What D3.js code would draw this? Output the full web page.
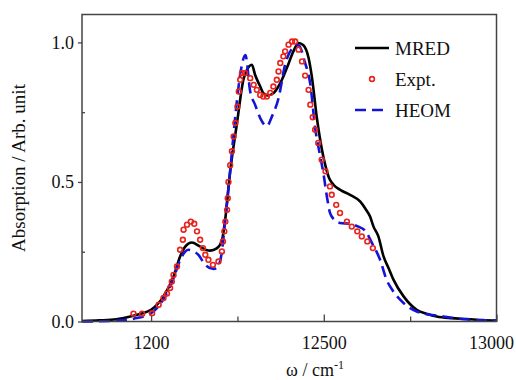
<!DOCTYPE html>
<html lang="en">
<head>
<meta charset="UTF-8">
<title>Absorption</title>
<style>
  body { margin: 0; background: #fff; }
  .frame { fill: none; stroke: #444; stroke-width: 1.5; }
  .tick line { stroke: #444; stroke-width: 1.3; }
  .mred { fill: none; stroke: #000; stroke-width: 2.6; }
  .heom { fill: none; stroke: #1414d8; stroke-width: 2.6; stroke-dasharray: 11 6; }
  .expt { fill: none; stroke: #e8221c; stroke-width: 1.6; }
</style>
</head>
<body>
<svg width="516" height="380"></svg>
<script src="https://d3js.org/d3.v7.min.js"></script>
<script>
// wavenumber (cm-1) / absorption pairs
var mredX = [11800, 11850, 11900, 11940, 11970, 12000, 12036, 12065, 12084, 12100, 12118, 12140, 12160, 12171, 12190, 12205, 12215, 12229, 12248, 12268, 12277, 12292, 12301, 12316, 12325, 12337, 12354, 12374, 12393, 12412, 12427, 12441, 12456, 12466, 12480, 12494, 12504, 12515, 12528, 12550, 12576, 12605, 12620, 12634, 12644, 12658, 12673, 12688, 12702, 12731, 12769, 12800, 12827, 12870, 12914, 12960, 13000];
var mredY = [0.002, 0.004, 0.008, 0.018, 0.028, 0.042, 0.09, 0.161, 0.233, 0.27, 0.283, 0.27, 0.256, 0.254, 0.262, 0.29, 0.37, 0.538, 0.705, 0.87, 0.9, 0.92, 0.884, 0.842, 0.818, 0.81, 0.818, 0.854, 0.908, 0.968, 0.998, 0.99, 0.944, 0.872, 0.729, 0.62, 0.562, 0.515, 0.49, 0.47, 0.454, 0.43, 0.405, 0.376, 0.34, 0.305, 0.233, 0.19, 0.149, 0.09, 0.042, 0.027, 0.018, 0.012, 0.009, 0.005, 0.003];

var heomX = [11800, 11900, 11950, 12000, 12036, 12065, 12084, 12108, 12120, 12137, 12157, 12181, 12195, 12205, 12215, 12229, 12245, 12260, 12273, 12287, 12301, 12316, 12335, 12350, 12369, 12388, 12410, 12427, 12445, 12461, 12475, 12490, 12499, 12510, 12518, 12530, 12547, 12576, 12600, 12620, 12640, 12663, 12682, 12700, 12721, 12769, 12846, 12900, 13000];
var heomY = [0.0, 0.003, 0.01, 0.03, 0.08, 0.155, 0.22, 0.257, 0.253, 0.239, 0.203, 0.188, 0.2, 0.25, 0.37, 0.54, 0.75, 0.9, 0.955, 0.824, 0.777, 0.729, 0.70, 0.735, 0.80, 0.92, 0.98, 0.99, 0.93, 0.85, 0.693, 0.59, 0.53, 0.44, 0.389, 0.365, 0.353, 0.35, 0.34, 0.325, 0.28, 0.221, 0.149, 0.11, 0.078, 0.036, 0.018, 0.009, 0.003];

var exptX = [11949, 11974, 12003, 12022, 12036, 12046, 12055, 12060, 12065, 12075, 12084, 12092, 12094, 12104, 12115, 12125, 12133, 12142, 12150, 12157, 12166, 12179, 12195, 12205, 12208, 12212, 12215, 12220, 12222, 12224, 12229, 12234, 12239, 12244, 12250, 12254, 12258, 12263, 12272, 12287, 12297, 12306, 12316, 12325, 12335, 12345, 12354, 12364, 12369, 12374, 12383, 12388, 12398, 12408, 12417, 12427, 12437, 12446, 12456, 12461, 12468, 12475, 12484, 12494, 12505, 12518, 12523, 12536, 12547, 12567, 12581, 12597, 12610, 12626, 12642];
var exptY = [0.028, 0.028, 0.03, 0.06, 0.084, 0.10, 0.12, 0.143, 0.167, 0.197, 0.257, 0.293, 0.329, 0.347, 0.358, 0.35, 0.323, 0.293, 0.263, 0.239, 0.221, 0.203, 0.215, 0.251, 0.287, 0.323, 0.358, 0.40, 0.442, 0.50, 0.56, 0.61, 0.663, 0.711, 0.77, 0.824, 0.866, 0.89, 0.89, 0.872, 0.848, 0.83, 0.812, 0.806, 0.806, 0.819, 0.842, 0.866, 0.896, 0.926, 0.95, 0.968, 0.992, 1.003, 1.003, 0.974, 0.932, 0.881, 0.83, 0.777, 0.732, 0.687, 0.64, 0.58, 0.538, 0.484, 0.454, 0.418, 0.389, 0.358, 0.34, 0.323, 0.305, 0.287, 0.263];

var xTicks = [12000, 12500, 13000];
var xTickLabels = ["1200", "12500", "13000"];
var xMinor = [12250, 12750];
var yTicks = [0, 0.5, 1.0];
var yTickLabels = ["0.0", "0.5", "1.0"];
var yMinor = [0.25, 0.75];

var seriesNames = ["MRED", "Expt.", "HEOM"];

var font = "'Liberation Serif', 'DejaVu Serif', 'Liberation Sans', serif";

var margin = {left: 82, top: 14.5, right: 19.5, bottom: 58.5};
var width = 516 - margin.left - margin.right;
var height = 380 - margin.top - margin.bottom;

var svg = d3.select("svg");
var g = svg.append("g").attr("transform", "translate(" + margin.left + "," + margin.top + ")");

var x = d3.scaleLinear().domain([11800, 13000]).range([0, width]);
var y = d3.scaleLinear().domain([0, 1.1]).range([height, 0]);

function zip(xs, ys) {
  return xs.map(function(d, i) { return [d, ys[i]]; });
}

var line = d3.line()
  .x(function(d) { return x(d[0]); })
  .y(function(d) { return y(d[1]); })
  .curve(d3.curveMonotoneX);

// axes
var xAxis = d3.axisBottom(x).tickValues(xTicks).tickSize(-7).tickPadding(15)
  .tickFormat(function(d, i) { return xTickLabels[i]; });
g.append("g").attr("transform", "translate(0," + height + ")").call(xAxis);
g.append("g").attr("transform", "translate(0," + height + ")")
  .call(d3.axisBottom(x).tickValues(xMinor).tickSize(-5).tickFormat(""));

var yAxis = d3.axisLeft(y).tickValues(yTicks).tickSize(4).tickPadding(4)
  .tickFormat(function(d, i) { return yTickLabels[i]; });
g.append("g").call(yAxis);
g.append("g").call(d3.axisLeft(y).tickValues(yMinor).tickSize(-3).tickFormat(""));

g.selectAll(".domain").remove();
g.selectAll(".tick text").attr("fill", "#111").attr("font-family", font)
  .style("font-size", "18px");

// keep the last x label inside the page
g.selectAll(".tick text").each(function() {
  var bb = this.getBoundingClientRect();
  if (bb.right > 514) d3.select(this).attr("dx", -(bb.right - 514));
});

// curves
g.append("path").datum(zip(mredX, mredY)).attr("class", "mred").attr("d", line);
g.append("path").datum(zip(heomX, heomY)).attr("class", "heom").attr("d", line);
g.selectAll(".pt").data(zip(exptX, exptY)).enter().append("circle")
  .attr("class", "expt")
  .attr("cx", function(d) { return x(d[0]); })
  .attr("cy", function(d) { return y(d[1]); })
  .attr("r", 2.4);

g.append("rect").attr("class", "frame").attr("width", width).attr("height", height);

// legend
var lg = g.append("g").attr("transform", "translate(" + (355 - margin.left) + "," + (48 - margin.top) + ")");
seriesNames.forEach(function(name, i) {
  var row = lg.append("g").attr("transform", "translate(0," + (i * 31) + ")");
  if (i === 0) {
    row.append("line").attr("class", "mred").attr("x1", 0).attr("x2", 34);
  } else if (i === 1) {
    row.append("circle").attr("class", "expt").attr("cx", 17).attr("r", 2.4);
  } else {
    row.append("line").attr("class", "heom").attr("x1", 0).attr("x2", 34);
  }
  row.append("text").attr("x", 40).attr("y", 7).attr("font-family", font)
    .style("font-size", "19px").attr("fill", "#111").text(name);
});

// axis titles
var xt = svg.append("text").attr("x", 315).attr("y", 376).attr("text-anchor", "middle")
  .attr("font-family", font).style("font-size", "18px").attr("fill", "#111");
xt.append("tspan").text("\u03c9 / cm");
xt.append("tspan").attr("dy", -7).style("font-size", "12px").text("-1");

svg.append("text").attr("transform", "translate(25,168) rotate(-90)").attr("text-anchor", "middle")
  .attr("font-family", font).style("font-size", "19px").attr("fill", "#111").text("Absorption / Arb. unit");
</script>
</body>
</html>
